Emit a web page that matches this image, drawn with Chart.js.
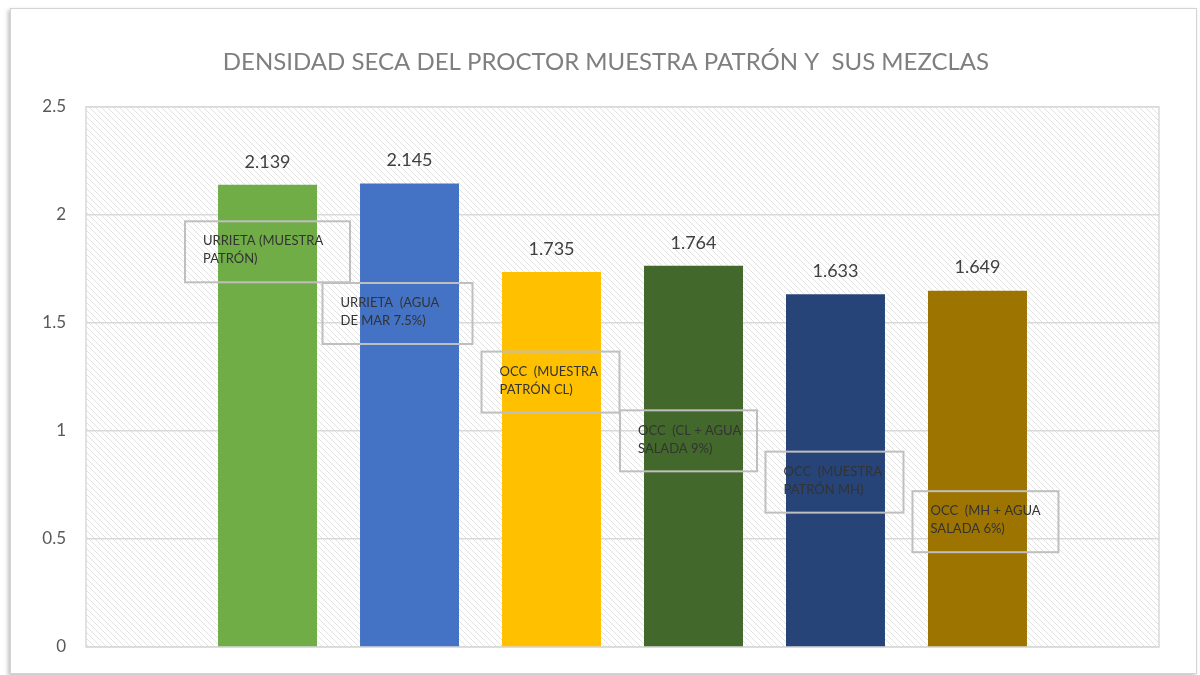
<!DOCTYPE html>
<html>
<head>
<meta charset="utf-8">
<script src="https://cdn.jsdelivr.net/npm/chart.js@4.4.0/dist/chart.umd.min.js"></script>
<style>
html, body { margin: 0; padding: 0; background: #fff; }
#frame { position: absolute; left: 10px; top: 8px; width: 1185px; height: 664px; border: 1px solid #d4d4d4; box-shadow: -2px 2px 4px rgba(0,0,0,0.25); background: #fff; }
#wrap { position: absolute; left: 0; top: 0; width: 1200px; height: 675px; }
</style>
</head>
<body>
<div id="frame"></div>
<div id="wrap"><canvas id="densityChart" width="1200" height="675"></canvas></div>
<script>
// chart data
const chartTitle = 'DENSIDAD SECA DEL PROCTOR MUESTRA PATRÓN Y  SUS MEZCLAS';
const categories = [
    ['URRIETA (MUESTRA', 'PATRÓN)'],
    ['URRIETA  (AGUA', 'DE MAR 7.5%)'],
    ['OCC  (MUESTRA', 'PATRÓN CL)'],
    ['OCC  (CL + AGUA', 'SALADA 9%)'],
    ['OCC  (MUESTRA', 'PATRÓN MH)'],
    ['OCC  (MH + AGUA', 'SALADA 6%)']
];
const densities = [2.139, 2.145, 1.735, 1.764, 1.633, 1.649];
const yTicks = [0, 0.5, 1, 1.5, 2, 2.5];

// styling
const barColors = ['#70AD47', '#4472C4', '#FFC000', '#43682B', '#264478', '#9E7400'];
// label box placement relative to bar (dx from bar center, dy from bar top, box width)
const boxPlacement = [
    { dx: 0, dy: 67, w: 165 },
    { dx: -12, dy: 130, w: 150 },
    { dx: -1, dy: 110, w: 138 },
    { dx: -5, dy: 175, w: 137 },
    { dx: -1, dy: 188, w: 138 },
    { dx: 8, dy: 231, w: 146 }
];
const FONT = 'Lato';

function makeHatch() {
    const c = document.createElement('canvas');
    c.width = 6;
    c.height = 6;
    const g = c.getContext('2d');
    g.strokeStyle = '#e2e2e2';
    g.lineWidth = 1;
    g.beginPath();
    g.moveTo(-1, -1); g.lineTo(7, 7);
    g.moveTo(-1, 5); g.lineTo(1, 7);
    g.moveTo(5, -1); g.lineTo(7, 1);
    g.stroke();
    return c;
}

const decorPlugin = {
    id: 'decor',
    beforeDraw(chart) {
        const { ctx, chartArea: a } = chart;
        ctx.save();
        ctx.fillStyle = ctx.createPattern(makeHatch(), 'repeat');
        ctx.fillRect(a.left, a.top, a.right - a.left, a.bottom - a.top);
        ctx.restore();
    },
    beforeDatasetsDraw(chart) {
        const { ctx, chartArea: a } = chart;
        ctx.save();
        ctx.strokeStyle = '#d9d9d9';
        ctx.lineWidth = 1.5;
        ctx.strokeRect(a.left, a.top, a.right - a.left, a.bottom - a.top);
        ctx.restore();
    },
    afterDatasetsDraw(chart) {
        const ctx = chart.ctx;
        ctx.save();
        chart.data.datasets.forEach((ds, i) => {
            const bar = chart.getDatasetMeta(i).data[0];
            // value label
            ctx.fillStyle = '#404040';
            ctx.font = '18px ' + FONT;
            ctx.textAlign = 'center';
            ctx.textBaseline = 'middle';
            ctx.fillText(densities[i].toFixed(3), bar.x, bar.y - 23);
            // category box
            const p = boxPlacement[i];
            const h = 61;
            const cx = bar.x + p.dx;
            const cy = bar.y + p.dy;
            const left = cx - p.w / 2;
            const top = cy - h / 2;
            ctx.strokeStyle = '#bfbfbf';
            ctx.lineWidth = 2;
            ctx.strokeRect(left, top, p.w, h);
            ctx.fillStyle = '#333333';
            ctx.font = '13px ' + FONT;
            ctx.textAlign = 'left';
            categories[i].forEach((line, k) => {
                ctx.fillText(line, left + 18, top + 20 + k * 18);
            });
        });
        ctx.restore();
    }
};

new Chart(document.getElementById('densityChart'), {
    type: 'bar',
    data: {
        labels: [''],
        datasets: categories.map((c, i) => ({
            label: c.join(' '),
            data: [densities[i]],
            backgroundColor: barColors[i],
            categoryPercentage: 0.794,
            barPercentage: 0.697
        }))
    },
    options: {
        responsive: false,
        animation: false,
        layout: { padding: { left: 12, right: 0, top: 0, bottom: 28 } },
        plugins: {
            legend: { display: false },
            tooltip: { enabled: false },
            title: {
                display: true,
                text: chartTitle,
                color: '#7f7f7f',
                font: { size: 24, family: FONT, weight: 'normal' },
                padding: { top: 48, bottom: 30 }
            }
        },
        scales: {
            x: { display: false },
            y: {
                min: 0,
                max: 2.5,
                afterBuildTicks: s => { s.ticks = yTicks.map(v => ({ value: v })); },
                afterFit: s => { s.width = 74; },
                ticks: {
                    color: '#595959',
                    font: { size: 17, family: FONT },
                    padding: 4,
                    callback: v => String(v)
                },
                grid: { color: '#d9d9d9', lineWidth: 1.5, drawTicks: true, tickLength: 16, tickColor: 'rgba(0,0,0,0)' },
                border: { display: false }
            },
            yRight: {
                position: 'right',
                min: 0,
                max: 2.5,
                afterFit: s => { s.width = 41; },
                ticks: { display: false },
                grid: { display: false },
                border: { display: false }
            }
        }
    },
    plugins: [decorPlugin]
});
</script>
</body>
</html>
